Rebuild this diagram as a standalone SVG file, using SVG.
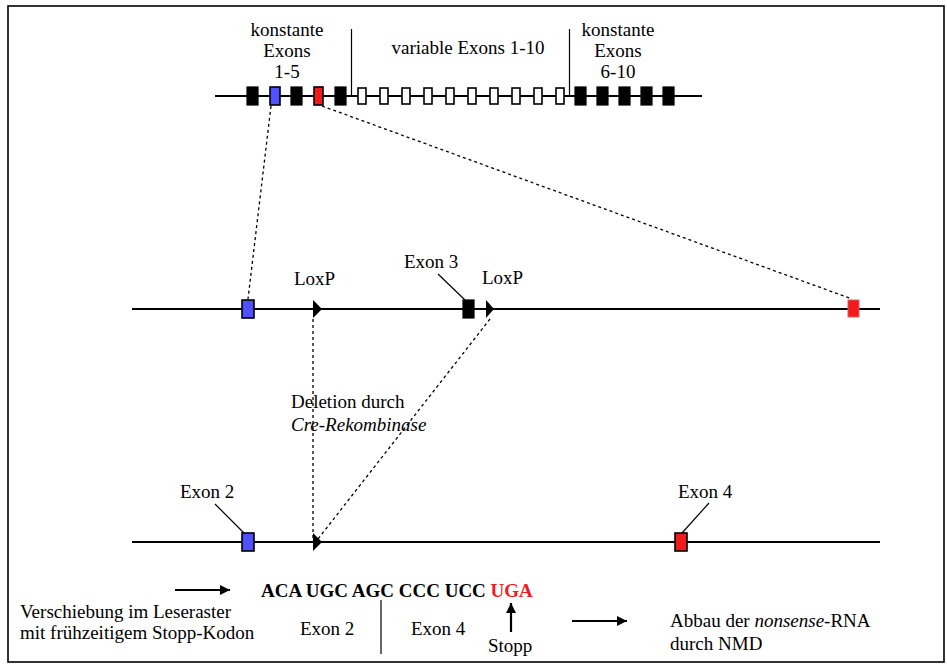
<svg xmlns="http://www.w3.org/2000/svg" width="947" height="664" viewBox="0 0 947 664">
  <style>
    text { font-family: "Liberation Serif", "Times New Roman", serif; font-size: 19px; fill: #000; }
    .mid { text-anchor: middle; }
    .bold { font-weight: bold; }
    .strand { stroke: #000; stroke-width: 2.2; fill: none; }
    .thin { stroke: #000; stroke-width: 1.2; fill: none; }
    .dash { stroke: #000; stroke-width: 1.3; stroke-dasharray: 3 3; fill: none; }
    .ex-black { fill: #000; stroke: #000; stroke-width: 1.2; }
    .ex-open { fill: #fff; stroke: #000; stroke-width: 1.6; }
    .ex-blue { fill: #5050ff; stroke: #000; stroke-width: 1.6; }
    .ex-red { fill: #f21b1b; stroke: #000; stroke-width: 1.6; }
    .lox { fill: #000; }
  </style>
  <defs>
    <marker id="arrowBig" viewBox="0 0 10 10" refX="10" refY="5" markerWidth="17" markerHeight="10" markerUnits="userSpaceOnUse" orient="auto">
      <path d="M0,0 L10,5 L0,10 z" fill="#000"/>
    </marker>
  </defs>

  <!-- frame -->
  <rect x="8" y="6" width="936" height="656" fill="none" stroke="#000" stroke-width="1.6"/>

  <!-- full gene: constant and variable exons -->
  <g id="gene-overview">
    <line class="strand" x1="215" y1="96" x2="702" y2="96"/>
    <rect class="ex-black" x="247" y="87" width="11" height="18"/>
    <rect class="ex-blue" x="270" y="87" width="10" height="18"/>
    <rect class="ex-black" x="291" y="87" width="11" height="18"/>
    <rect class="ex-red" x="314" y="87" width="9" height="18"/>
    <rect class="ex-black" x="335" y="87" width="11" height="18"/>
    <rect class="ex-open" x="358" y="88" width="8" height="16"/>
    <rect class="ex-open" x="380" y="88" width="8" height="16"/>
    <rect class="ex-open" x="402" y="88" width="8" height="16"/>
    <rect class="ex-open" x="424" y="88" width="8" height="16"/>
    <rect class="ex-open" x="446" y="88" width="8" height="16"/>
    <rect class="ex-open" x="468" y="88" width="8" height="16"/>
    <rect class="ex-open" x="490" y="88" width="8" height="16"/>
    <rect class="ex-open" x="512" y="88" width="8" height="16"/>
    <rect class="ex-open" x="534" y="88" width="8" height="16"/>
    <rect class="ex-open" x="556" y="88" width="8" height="16"/>
    <rect class="ex-black" x="575" y="87" width="11" height="18"/>
    <rect class="ex-black" x="597" y="87" width="11" height="18"/>
    <rect class="ex-black" x="619" y="87" width="11" height="18"/>
    <rect class="ex-black" x="641" y="87" width="11" height="18"/>
    <rect class="ex-black" x="663" y="87" width="11" height="18"/>
    <line class="thin" x1="351.5" y1="29" x2="351.5" y2="96"/>
    <line class="thin" x1="569.5" y1="29" x2="569.5" y2="96"/>
  </g>

  <g id="label-const-1">
    <text class="mid" x="287" y="36">konstante</text>
    <text class="mid" x="287" y="57">Exons</text>
    <text class="mid" x="287" y="78">1-5</text>
  </g>
  <g id="label-variable">
    <text class="mid" x="468" y="54">variable Exons 1-10</text>
  </g>
  <g id="label-const-2">
    <text class="mid" x="618" y="36">konstante</text>
    <text class="mid" x="618" y="57">Exons</text>
    <text class="mid" x="618" y="78">6-10</text>
  </g>

  <!-- floxed allele -->
  <g id="floxed-allele">
    <line class="strand" x1="132" y1="309" x2="880" y2="309"/>
    <rect class="ex-blue" x="242" y="300" width="12" height="18"/>
    <path class="lox" d="M313,300 L322,309 L313,318 z"/>
    <rect class="ex-black" x="463" y="300" width="11" height="18"/>
    <path class="lox" d="M486,300 L494,309 L486,318 z"/>
    <rect x="848" y="300" width="11" height="17" fill="#f21b1b" stroke="#e06060" stroke-width="1"/>
    <text x="294" y="285">LoxP</text>
    <text x="482" y="284">LoxP</text>
    <text x="404" y="268">Exon 3</text>
    <line class="thin" x1="438" y1="274" x2="465" y2="300"/>
  </g>

  <!-- recombined allele -->
  <g id="deleted-allele">
    <line class="strand" x1="132" y1="542" x2="880" y2="542"/>
    <rect class="ex-blue" x="242" y="533" width="12" height="18"/>
    <path class="lox" d="M313,533 L322,542 L313,551 z"/>
    <rect class="ex-red" x="675" y="533" width="12" height="18"/>
    <text x="180" y="498">Exon 2</text>
    <line class="thin" x1="215" y1="504" x2="244" y2="533"/>
    <text x="678" y="498">Exon 4</text>
    <line class="thin" x1="709" y1="503" x2="682" y2="533"/>
  </g>

  <g id="label-deletion">
    <text x="291" y="408">Deletion durch</text>
    <text x="291" y="431" font-style="italic">Cre-Rekombinase</text>
  </g>

  <!-- connectors -->
  <g id="connectors">
    <line class="dash" x1="271" y1="106" x2="248" y2="299"/>
    <line class="dash" x1="322" y1="106" x2="852" y2="299"/>
    <line class="dash" x1="313" y1="319" x2="313" y2="540"/>
    <line class="dash" x1="490" y1="319" x2="318" y2="539"/>
    <line class="strand" x1="175" y1="590" x2="230" y2="590" marker-end="url(#arrowBig)"/>
    <line class="strand" x1="572" y1="621" x2="627" y2="621" marker-end="url(#arrowBig)"/>
    <line class="strand" x1="511" y1="632" x2="511" y2="603" marker-end="url(#arrowBig)"/>
    <line class="thin" x1="381" y1="600" x2="381" y2="654"/>
  </g>

  <!-- sequence and outcome -->
  <g id="sequence">
    <text class="bold" x="261" y="597">ACA UGC AGC CCC UCC <tspan fill="#ee1c24">UGA</tspan></text>
    <text x="300" y="635">Exon 2</text>
    <text x="411" y="635">Exon 4</text>
    <text x="488" y="652">Stopp</text>
  </g>
  <g id="label-frameshift">
    <text x="20" y="618">Verschiebung im Leseraster</text>
    <text x="20" y="639">mit frühzeitigem Stopp-Kodon</text>
  </g>
  <g id="label-nmd">
    <text x="670" y="627">Abbau der <tspan font-style="italic">nonsense</tspan>-RNA</text>
    <text x="670" y="650">durch NMD</text>
  </g>
</svg>
